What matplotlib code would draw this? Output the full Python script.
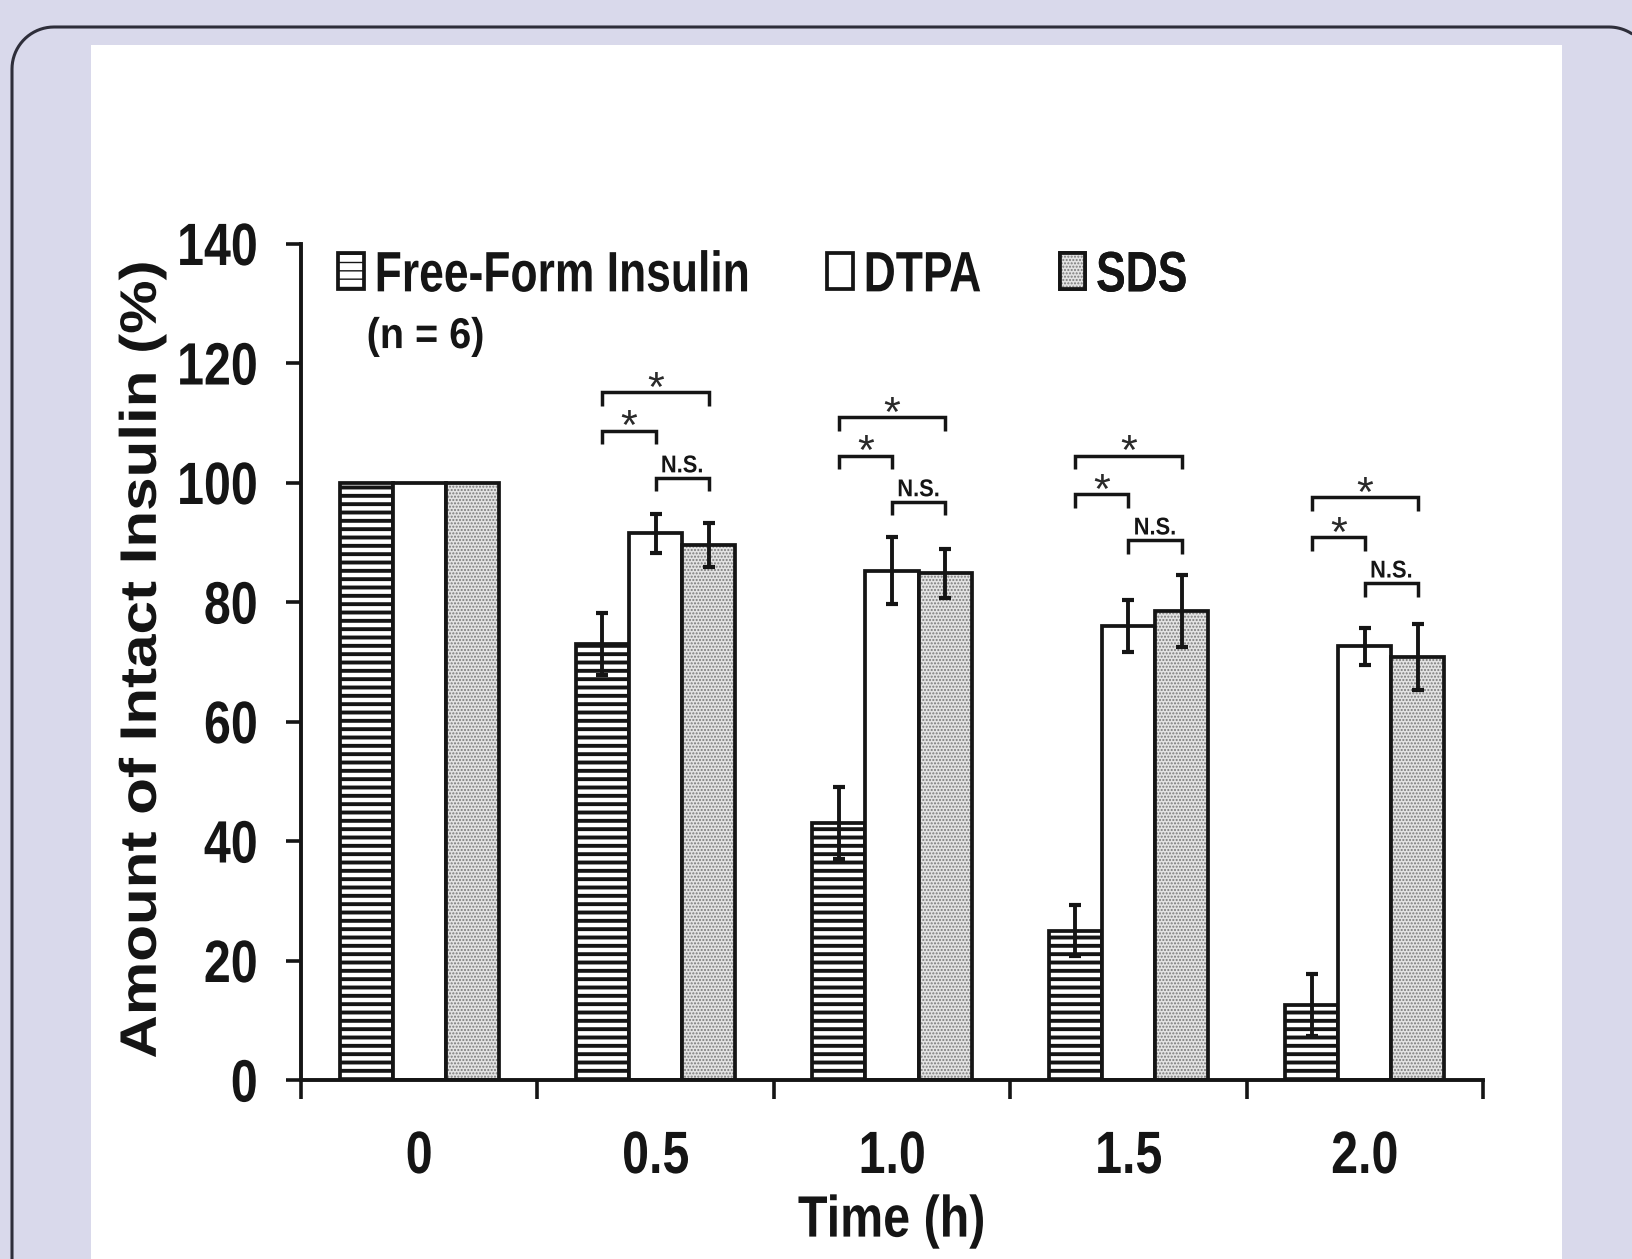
import numpy as np
import matplotlib
matplotlib.use("Agg")
import matplotlib.pyplot as plt
from matplotlib import patheffects
from matplotlib.patches import Rectangle
from matplotlib.lines import Line2D
from matplotlib.transforms import IdentityTransform, Affine2D
from matplotlib.legend_handler import HandlerTuple

times = ['0', '0.5', '1.0', '1.5', '2.0']
free_form = [100, 73, 43, 25, 12.5]
free_err = [0, 5.2, 6.0, 4.3, 5.2]
dtpa = [100, 91.5, 85.2, 76, 72.6]
dtpa_err = [0, 3.3, 5.6, 4.4, 3.1]
sds = [100, 89.6, 84.8, 78.5, 70.8]
sds_err = [0, 3.7, 4.1, 6.0, 5.5]

# significance brackets (groups 0.5 .. 2.0)
sig_groups = [1, 2, 3, 4]
outer_y = [115.1, 110.9, 104.5, 97.5]
inner_y = [108.7, 104.5, 98.0, 90.9]
ns_y = [100.8, 96.8, 90.4, 83.2]


class Squeeze(patheffects.AbstractPathEffect):
    # narrow (or widen) text glyphs, Arial Narrow look
    def __init__(self, sx, anchor='center'):
        super().__init__()
        self.sx = sx
        self.anchor = anchor

    def draw_path(self, renderer, gc, tpath, affine, rgbFace=None):
        ext = tpath.get_extents()
        cx = {'left': ext.x0, 'center': 0.5 * (ext.x0 + ext.x1), 'right': ext.x1}[self.anchor]
        t = Affine2D().translate(-cx, 0).scale(self.sx, 1).translate(cx, 0) + affine
        renderer.draw_path(gc, tpath, t, rgbFace)


plt.rcParams['font.family'] = ['Liberation Sans', 'DejaVu Sans']
plt.rcParams['font.weight'] = 'bold'
ink = '#151515'

W, H = 1632, 1259
fig = plt.figure(figsize=(W / 100, H / 100), dpi=100)
fig.patch.set_facecolor('#d9d9eb')
fig.add_artist(Rectangle((91, 0), 1471, 1214, transform=IdentityTransform(),
                         facecolor='white', edgecolor='none', zorder=-2))

# rounded outer frame, cut at the right edge of the picture
r, fl, ft, fr = 42, 12, 1232, 1651
a1 = np.linspace(np.pi, np.pi / 2, 20)
a2 = np.linspace(np.pi / 2, np.arccos((W - 1 - (fr - r)) / r), 10)
fx = np.r_[fl, fl + r + r * np.cos(a1), fr - r + r * np.cos(a2)]
fy = np.r_[-20, ft - r + r * np.sin(a1), ft - r + r * np.sin(a2)]
fig.add_artist(Line2D(fx, fy, transform=IdentityTransform(), color='#2e2e3a',
                      lw=2.2, zorder=-1))

ax = fig.add_axes([301 / W, 179 / H, (1483 - 301) / W, (1080 - 243.5) / H])
ax.set_facecolor('none')

x = np.arange(len(times)) + 0.5
w = 0.2247

plt.rcParams['hatch.linewidth'] = 2.8
b1 = ax.bar(x - w, free_form, w, facecolor='white', edgecolor=ink,
            lw=2.7, hatch='--')
b2 = ax.bar(x, dtpa, w, facecolor='white', edgecolor=ink, lw=2.7)
plt.rcParams['hatch.linewidth'] = 1.0
b3f = ax.bar(x + w, sds, w, facecolor='#e3e3e3', edgecolor='#7a7a7a', lw=0,
             hatch='.....')
b3 = ax.bar(x + w, sds, w, fill=False, edgecolor=ink, lw=2.7)
if hasattr(b1[0], 'set_hatch_linewidth'):
    for p in b1:
        p.set_hatch_linewidth(2.8)
    for p in b3f:
        p.set_hatch_linewidth(1.0)
else:
    plt.rcParams['hatch.linewidth'] = 2.8

sel = np.array(free_err) > 0
for xs, vals, errs in [(x - w, free_form, free_err), (x, dtpa, dtpa_err), (x + w, sds, sds_err)]:
    ax.errorbar(xs[sel], np.array(vals)[sel], yerr=np.array(errs)[sel], fmt='none',
                ecolor=ink, elinewidth=2.8, capsize=4.3, capthick=3.0, zorder=5)

leg = 2.3
for g, yo, yi, yn in zip(sig_groups, outer_y, inner_y, ns_y):
    c0, c1, c2 = x[g] - w, x[g], x[g] + w
    for (a, b), yy in [((c0, c2), yo), ((c0, c1), yi), ((c1, c2), yn)]:
        ax.plot([a, a, b, b], [yy - leg, yy, yy, yy - leg], color=ink, lw=2.5,
                solid_joinstyle='miter', solid_capstyle='butt')
    ax.text((c0 + c2) / 2, yo - 1.45, '*', ha='center', va='baseline', fontsize=31,
            fontweight='normal', color='#2a2a2a')
    ax.text((c0 + c1) / 2, yi - 1.45, '*', ha='center', va='baseline', fontsize=31,
            fontweight='normal', color='#2a2a2a')
    t = ax.text((c1 + c2) / 2, yn + 0.9, 'N.S.', ha='center', va='baseline',
                fontsize=17.5, color=ink)
    t.set_path_effects([Squeeze(0.9, 'center')])

ax.set_xlim(0, len(times))
ax.set_ylim(0, 140)
ax.set_yticks(np.arange(0, 141, 20))
ax.set_xticks(np.arange(0, len(times) + 1))
ax.set_xticklabels([])
ax.set_xticks(x, minor=True)
ax.set_xticklabels(times, minor=True)
ax.tick_params(axis='y', direction='out', length=10.8, width=2.6, pad=20,
               labelsize=43, colors=ink)
ax.tick_params(axis='x', which='major', direction='out', length=14, width=2.6, colors=ink)
ax.tick_params(axis='x', which='minor', length=0, pad=36, labelsize=43, labelcolor=ink)
for lab in ax.get_yticklabels():
    lab.set_path_effects([Squeeze(0.81, 'right')])
for lab in ax.get_xticklabels(minor=True):
    lab.set_path_effects([Squeeze(0.81, 'center')])
for s in ['top', 'right']:
    ax.spines[s].set_visible(False)
for s in ['left', 'bottom']:
    ax.spines[s].set_linewidth(2.8)
    ax.spines[s].set_color(ink)

xl = ax.set_xlabel('Time (h)', fontsize=42, fontweight='bold', color=ink)
ax.xaxis.set_label_coords(0.5, -0.137)
xl.set_path_effects([Squeeze(0.83, 'center')])
yl = ax.set_ylabel('Amount of Intact Insulin (%)', fontsize=37, fontweight='bold',
                   color=ink)
ax.yaxis.set_label_coords(-0.1135, 0.5025)
yl.set_path_effects([Squeeze(1.17, 'center')])

entries = [((b1,), 'Free-Form Insulin', 0.0313),
           ((b2,), 'DTPA', 0.445),
           ((b3f, b3), 'SDS', 0.642)]
for hnd, lab, fx0 in entries:
    lg = ax.legend(handles=[hnd if len(hnd) > 1 else hnd[0]], labels=[lab],
                   loc='upper left', bbox_to_anchor=(fx0, 0.993), frameon=False,
                   fontsize=41, handlelength=0.45, handleheight=0.6,
                   handletextpad=0.18, borderaxespad=0, borderpad=0,
                   handler_map={tuple: HandlerTuple(ndivide=1, pad=0)})
    for tx in lg.get_texts():
        tx.set_color(ink)
        tx.set_path_effects([Squeeze(0.78, 'left')])
    ax.add_artist(lg)
nt = ax.text(0.277, 122.5, '(n = 6)', fontsize=31, ha='left', va='baseline', color=ink)
nt.set_path_effects([Squeeze(0.92, 'left')])

fig.savefig('out.png', dpi=100, facecolor=fig.get_facecolor())
